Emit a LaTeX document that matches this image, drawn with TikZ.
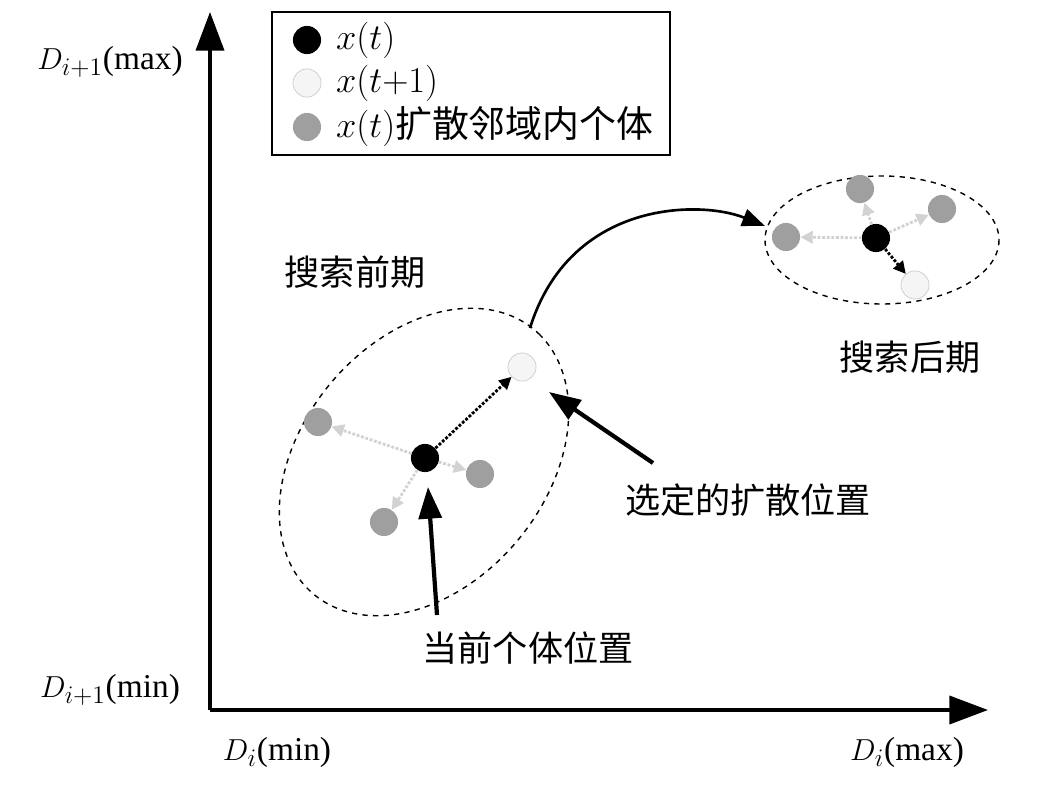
\documentclass[tikz,border=0pt]{standalone}
\usepackage{fontspec}
\setmainfont{Liberation Serif}
\newfontfamily\cjk{Noto Sans CJK SC}
\usetikzlibrary{arrows.meta}
\tikzset{
  >=Triangle,
  dotb/.style={circle,fill=black,minimum size=16pt,inner sep=0},
  dotw/.style={circle,fill=gray!8,draw=gray!40,minimum size=16pt,inner sep=0},
  dotg/.style={circle,fill=gray!75,minimum size=16pt,inner sep=0},
  lbl/.style={font=\fontsize{19}{22}\selectfont},
  leg/.style={font=\fontsize{20}{24}\selectfont},
  zh/.style={font=\cjk\fontsize{20}{24}\selectfont},
  spread/.style={densely dotted,line width=1.6pt,-{Triangle[length=7pt,width=7pt]}},
  pointer/.style={line width=2.4pt,-{Triangle[length=18pt,width=13pt]}}
}
\begin{document}
\begin{tikzpicture}[x=0.02cm,y=-0.02cm]
  \useasboundingbox (0,0) rectangle (1039,801);
  % axes
  \coordinate (O) at (210,710);
  \coordinate (Ytop) at (210,12);
  \coordinate (Xend) at (988,710);
  \draw [line width=2pt,-{Triangle[length=22pt,width=16pt]}] (O) -- (Ytop);
  \draw [line width=2pt,-{Triangle[length=22pt,width=16pt]}] (O) -- (Xend);
  \node (Ymax) [lbl] at (110,62) {$D_{i+1}$(max)};
  \node (Ymin) [lbl] at (110,690) {$D_{i+1}$(min)};
  \node (Xmin) [lbl] at (277,752) {$D_i$(min)};
  \node (Xmax) [lbl] at (907,752) {$D_i$(max)};

  % legend
  \draw [thick] (272,12) rectangle (670,155);
  \node (Lb) [dotb] at (307,40) {};
  \node [leg,anchor=west] at (330,40) {$x(t)$};
  \node (Lw) [dotw] at (307,83) {};
  \node [leg,anchor=west] at (330,83) {$x(t{+}1)$};
  \node (Lg) [dotg] at (307,127) {};
  \node [leg,anchor=west] at (330,127) {$x(t)$\cjk\fontsize{21}{24}\selectfont 扩散邻域内个体};

  % early search
  \draw [dashed,thick] plot [domain=0:360,samples=120,smooth cycle]
    ({424+172*cos(\x)*0.64+122*sin(\x)*0.77},{462-172*cos(\x)*0.77+122*sin(\x)*0.64});
  \node (E_cur) [dotb] at (425,458) {};
  \node (E_sel) [dotw] at (522,367) {};
  \node (E_g1) [dotg] at (318,422) {};
  \node (E_g2) [dotg] at (480,474) {};
  \node (E_g3) [dotg] at (384,522) {};
  \draw [spread] (E_cur) -- (E_sel);
  \draw [spread,gray!35] (E_cur) -- (E_g1);
  \draw [spread,gray!35] (E_cur) -- (E_g2);
  \draw [spread,gray!35] (E_cur) -- (E_g3);
  \node (Early) [zh] at (355,272) {搜索前期};

  % late search
  \draw [dashed,thick] (882,240) ellipse (117 and 64);
  \node (L_cur) [dotb] at (876,238) {};
  \node (L_sel) [dotw] at (915,285) {};
  \node (L_g1) [dotg] at (860,189) {};
  \node (L_g2) [dotg] at (942,209) {};
  \node (L_g3) [dotg] at (786,237) {};
  \draw [spread] (L_cur) -- (L_sel);
  \draw [spread,gray!35] (L_cur) -- (L_g1);
  \draw [spread,gray!35] (L_cur) -- (L_g2);
  \draw [spread,gray!35] (L_cur) -- (L_g3);
  \node (Late) [zh] at (910,357) {搜索后期};

  % transition
  \coordinate (Tfrom) at (530,328);
  \coordinate (Tto) at (765,226);
  \draw [line width=1.5pt,-{Triangle[length=13pt,width=10pt]}] (Tfrom) .. controls (570,200) and (700,200) .. (Tto);

  % pointers
  \node (Sel) [zh] at (748,500) {选定的扩散位置};
  \node (Cur) [zh] at (528,648) {当前个体位置};
  \coordinate (SelTail) at (653,463);
  \coordinate (CurTail) at (437,615);
  \draw [pointer] (SelTail) -- (549,392);
  \draw [pointer] (CurTail) -- (428,487);
\end{tikzpicture}
\end{document}
